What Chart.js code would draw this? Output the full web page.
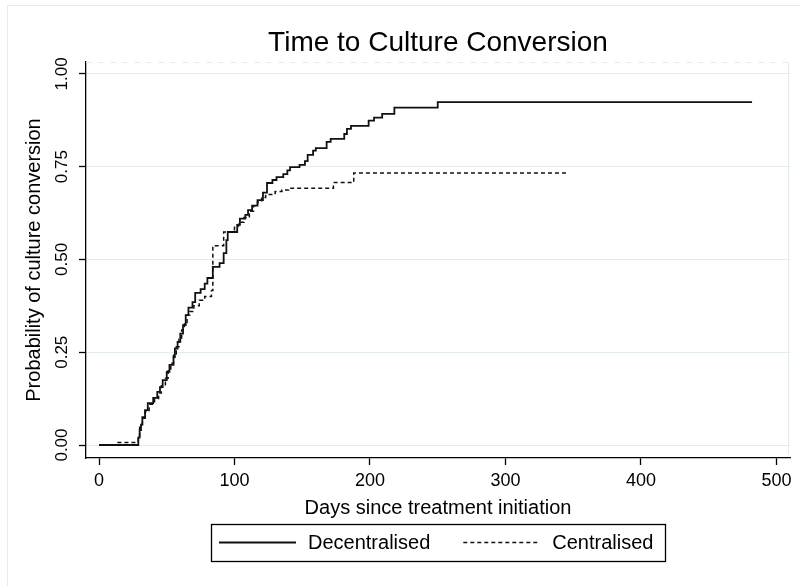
<!DOCTYPE html>
<html>
<head>
<meta charset="utf-8">
<script src="https://cdn.jsdelivr.net/npm/chart.js@4/dist/chart.umd.min.js"></script>
<style>
  html, body { margin: 0; padding: 0; background: #fff; }
  #wrap { width: 800px; height: 586px; }
</style>
</head>
<body>
<div id="wrap"><canvas id="chart"></canvas></div>
<script>
// Kaplan-Meier steps (day of step, probability after step)
const decDays = [0, 28, 29, 30, 31, 32, 34, 36, 40, 43, 45, 47, 50, 52, 55, 56, 58, 60, 62, 64,
  66, 69, 71, 75, 78, 80, 84, 89, 92, 94, 95, 102, 104, 108, 110, 113, 117, 121, 124, 128,
  131, 136, 139, 141, 148, 152, 154, 158, 160, 168, 171, 181, 183, 186, 199, 203, 209, 218, 250, 482];
const decProb = [0, 0, 0.02, 0.04, 0.055, 0.075, 0.094, 0.113, 0.127, 0.143, 0.156, 0.175, 0.197, 0.216, 0.237, 0.26, 0.278, 0.30, 0.323, 0.35,
  0.37, 0.385, 0.41, 0.42, 0.435, 0.45, 0.48, 0.49, 0.517, 0.552, 0.574, 0.593, 0.61, 0.62, 0.633, 0.645, 0.66, 0.68, 0.706, 0.714,
  0.722, 0.73, 0.74, 0.749, 0.755, 0.765, 0.782, 0.793, 0.80, 0.817, 0.825, 0.838, 0.852, 0.86, 0.874, 0.882, 0.892, 0.909, 0.924, 0.924];

const cenDays = [0, 14, 28, 29, 30, 32, 34, 37, 41, 44, 46, 49, 51, 53, 55, 57, 59, 61, 63, 65,
  67, 70, 74, 78, 83, 84, 92, 100, 103, 107, 111, 114, 117, 120, 123, 130, 135, 140, 173, 188, 345];
const cenProb = [0, 0.007, 0.007, 0.025, 0.048, 0.072, 0.09, 0.11, 0.125, 0.14, 0.16, 0.18, 0.2, 0.22, 0.245, 0.265, 0.285, 0.31, 0.33, 0.35,
  0.36, 0.375, 0.39, 0.40, 0.416, 0.537, 0.574, 0.59, 0.6, 0.613, 0.63, 0.645, 0.655, 0.667, 0.675, 0.683, 0.687, 0.692, 0.707, 0.733, 0.733];

const seriesNames = ["Decentralised", "Centralised"];
const xTicks = [0, 100, 200, 300, 400, 500];
const yTicks = [0, 0.25, 0.5, 0.75, 1];

const FONT = "'Liberation Sans', Arial, sans-serif";
const LIGHT = "#e3ecee";

// zip day/prob arrays into points
function toPoints(days, prob) {
  return days.map((d, i) => ({ x: d, y: prob[i] }));
}

// Stata-ish frame: outer border, dashed top, light right edge, rotated y labels, boxed legend
const stataBits = {
  id: "stataBits",
  beforeDatasetsDraw(chart) {
    const { ctx, chartArea: a } = chart;
    ctx.save();
    ctx.strokeStyle = LIGHT;
    ctx.lineWidth = 1;
    ctx.strokeRect(7.5, 5.5, 820, 620);
    ctx.setLineDash([6, 6]);
    ctx.beginPath();
    ctx.moveTo(a.left, a.top + 0.5);
    ctx.lineTo(a.right, a.top + 0.5);
    ctx.stroke();
    ctx.setLineDash([]);
    ctx.beginPath();
    ctx.moveTo(a.right - 1.5, a.top);
    ctx.lineTo(a.right - 1.5, a.bottom - 4);
    ctx.stroke();
    ctx.restore();
  },
  afterDraw(chart) {
    const { ctx, chartArea: a } = chart;
    const yScale = chart.scales.y;
    ctx.save();
    ctx.fillStyle = "#000";
    ctx.font = "17px " + FONT;
    ctx.textAlign = "center";
    ctx.textBaseline = "middle";
    yTicks.forEach(v => {
      const py = yScale.getPixelForValue(v);
      ctx.save();
      ctx.translate(62, py);
      ctx.rotate(-Math.PI / 2);
      ctx.fillText(v.toFixed(2), 0, 0);
      ctx.restore();
    });

    // legend with frame
    ctx.font = "20px " + FONT;
    const sample = 77, gap = 12, between = 33, padL = 8, padR = 12;
    const widths = chart.data.datasets.map(ds => ctx.measureText(ds.label).width);
    const total = padL + padR + widths.reduce((s, w) => s + sample + gap + w, 0) + between * (widths.length - 1);
    const left = Math.round((a.left + a.right) / 2 - total / 2);
    const top = chart.scales.x.bottom + 4;
    const cy = top + 18;
    ctx.strokeStyle = "#000";
    ctx.lineWidth = 1.3;
    ctx.strokeRect(left + 0.5, top + 0.5, Math.round(total), 37);
    let x = left + padL;
    chart.data.datasets.forEach((ds, i) => {
      ctx.beginPath();
      ctx.setLineDash(ds.borderDash || []);
      ctx.lineWidth = ds.borderWidth;
      ctx.strokeStyle = ds.borderColor;
      ctx.moveTo(x, cy + 0.5);
      ctx.lineTo(x + sample, cy + 0.5);
      ctx.stroke();
      ctx.setLineDash([]);
      x += sample + gap;
      ctx.textAlign = "left";
      ctx.fillStyle = "#000";
      ctx.fillText(ds.label, x, cy + 1);
      x += widths[i] + between;
    });
    ctx.restore();
  }
};

const ctx = document.getElementById("chart").getContext("2d");
const chart = new Chart(ctx, {
  type: "line",
  data: {
    datasets: [
      {
        label: seriesNames[0],
        data: toPoints(decDays, decProb),
        borderColor: "#111",
        borderWidth: 1.8,
        stepped: true,
        pointRadius: 0,
        fill: false,
      },
      {
        label: seriesNames[1],
        data: toPoints(cenDays, cenProb),
        borderColor: "#111",
        borderWidth: 1.5,
        borderDash: [4, 3],
        stepped: true,
        pointRadius: 0,
        fill: false,
      },
    ],
  },
  options: {
    responsive: true,
    maintainAspectRatio: false,
    animation: false,
    layout: { padding: { top: 0, left: 0, right: 10, bottom: 66 } },
    scales: {
      x: {
        type: "linear",
        min: -9.6,
        max: 510,
        afterBuildTicks: s => { s.ticks = xTicks.map(v => ({ value: v })); },
        afterFit: s => { s.height = 62; },
        grid: { drawOnChartArea: false, drawTicks: true, tickLength: 7, tickColor: "#000", tickWidth: 1.3 },
        border: { display: true, color: "#000", width: 1.3 },
        ticks: { color: "#000", font: { family: FONT, size: 18 }, padding: 5, maxRotation: 0 },
        title: {
          display: true,
          text: "Days since treatment initiation",
          color: "#000",
          font: { family: FONT, size: 20 },
          padding: { top: 0, bottom: 0 },
        },
      },
      y: {
        type: "linear",
        min: -0.035,
        max: 1.032,
        afterBuildTicks: s => { s.ticks = yTicks.map(v => ({ value: v })); },
        afterFit: s => { s.width = 86; },
        grid: { color: LIGHT, lineWidth: 1, drawTicks: true, tickLength: 7, tickColor: "#000", tickWidth: 1.3 },
        border: { display: true, color: "#000", width: 1.3 },
        ticks: { display: false },
        title: {
          display: true,
          text: "Probability of culture conversion",
          color: "#000",
          font: { family: FONT, size: 20 },
          padding: { top: 22, bottom: 0 },
        },
      },
    },
    plugins: {
      legend: { display: false },
      tooltip: { enabled: false },
      title: {
        display: true,
        fullSize: false,
        text: "Time to Culture Conversion",
        color: "#000",
        font: { family: FONT, size: 28, weight: "normal" },
        padding: { top: 26, bottom: 2.4 },
      },
    },
  },
  plugins: [stataBits],
});
</script>
</body>
</html>
